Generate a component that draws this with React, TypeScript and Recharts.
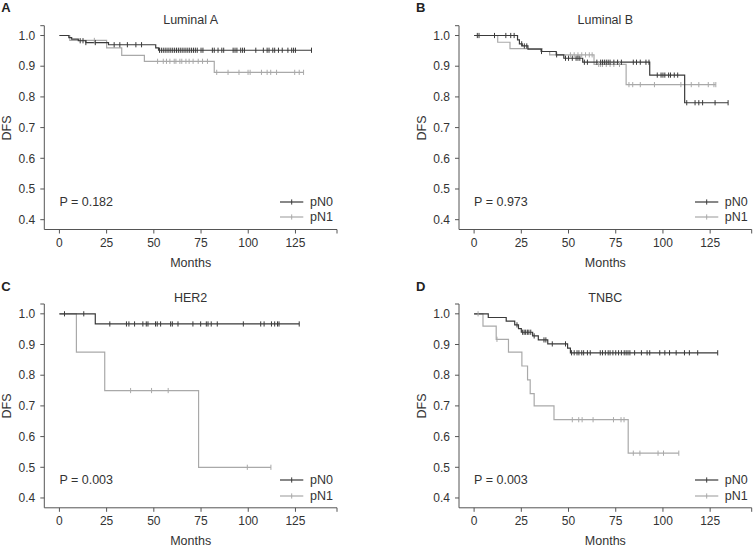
import { ComposedChart, Line, Scatter, XAxis, YAxis } from "recharts";

// Kaplan-Meier DFS by nodal status (pN0 vs pN1) for four subtypes.
// Each curve: event times + survival after the step, and censoring times.

// A. Luminal A
const lumA_pN0_times = [0, 5, 6.5, 10, 14, 26, 51, 52.5];
const lumA_pN0_surv = [1, 0.993, 0.988, 0.983, 0.977, 0.97, 0.96, 0.952];
const lumA_pN0_censor = [
  11, 12.5, 14, 19, 29, 32, 36, 40.5, 43.5, 53, 54, 55, 56, 57, 58, 59, 60, 61, 62, 63, 64, 65, 66, 67,
  68, 69, 70, 71, 72, 73, 75, 76, 81, 82, 84, 86, 87, 92, 93, 94, 96, 97, 98, 104, 108, 110, 111, 113,
  114, 116, 118, 121, 123, 124, 125, 133.5,
];
const lumA_pN1_times = [0, 5.5, 25, 33, 45, 82];
const lumA_pN1_surv = [1, 0.984, 0.96, 0.935, 0.916, 0.88];
const lumA_pN1_censor = [
  18.5, 52, 55, 56.7, 58.5, 60.8, 61.7, 63.8, 64.8, 67, 68.7, 70.8, 73.5, 75.8, 78.4, 83.3, 89.3, 95.1,
  99.9, 101, 107, 110, 111.9, 115, 124.6, 127, 129.3,
];

// B. Luminal B
const lumB_pN0_times = [0, 23, 24, 25.5, 28.5, 35.5, 43.5, 47.5, 57.5, 93, 111.5];
const lumB_pN0_surv = [1, 0.986, 0.973, 0.966, 0.956, 0.948, 0.937, 0.926, 0.913, 0.871, 0.781];
const lumB_pN0_censor = [
  1.7, 2.6, 10.8, 16.8, 19.4, 21.2, 25.2, 26.6, 27.9, 35.7, 43.7, 48.4, 50, 52, 54, 55, 56, 58.4, 60, 65,
  67, 68, 69, 70, 71, 72, 74, 76, 78, 84.3, 86, 88, 91, 92.6, 97, 99, 100, 101, 103, 104, 106, 107.8,
  112.6, 117, 119, 121, 127.6, 134.5,
];
const lumB_pN1_times = [0, 12.5, 19, 36, 40, 63.5, 80.5];
const lumB_pN1_surv = [1, 0.978, 0.957, 0.948, 0.937, 0.906, 0.84];
const lumB_pN1_censor = [
  51, 53, 55, 57, 59, 61, 62.5, 66, 67, 68, 70, 72, 74, 77, 82, 84, 88, 95.5, 109.5, 115, 119, 124, 127,
  128,
];

// C. HER2
const her2_pN0_times = [0, 19];
const her2_pN0_surv = [1, 0.967];
const her2_pN0_censor = [
  2.7, 12.9, 26.7, 35.5, 36.8, 39.8, 44.2, 46, 46.9, 50.9, 51.8, 53.6, 58.9, 59.8, 62.8, 70.7, 74.8,
  77.8, 78.7, 80.4, 83.6, 97.4, 106.6, 108.4, 112.3, 114, 115.5, 116.3, 127,
];
const her2_pN1_times = [0, 9, 24, 73.7];
const her2_pN1_surv = [1, 0.875, 0.75, 0.5];
const her2_pN1_censor = [37.7, 48.8, 57.6, 99.5, 112];

// D. TNBC
const tnbc_pN0_times = [0, 7.5, 17, 21.5, 23.5, 25, 31, 34, 39, 49.5, 51];
const tnbc_pN0_surv = [1, 0.988, 0.976, 0.964, 0.952, 0.94, 0.928, 0.915, 0.902, 0.888, 0.873];
const tnbc_pN0_censor = [
  22.7, 25.7, 26.5, 27.3, 28.2, 29, 30, 31.8, 37, 38, 41.4, 48.4, 51.6, 53, 54.5, 55.5, 57, 58, 60, 61.5,
  66.8, 68, 69.5, 71, 72, 73.5, 75, 76.5, 78, 79.5, 80.5, 81.5, 82.5, 85, 88.6, 91.6, 93, 98.3, 101,
  103.5, 107, 111.4, 114, 118.4, 129,
];
const tnbc_pN1_times = [0, 4.7, 11.7, 18.2, 25.3, 28.3, 29.7, 31.8, 42.3, 81.6];
const tnbc_pN1_surv = [1, 0.96, 0.917, 0.875, 0.83, 0.785, 0.74, 0.7, 0.655, 0.546];
const tnbc_pN1_censor = [2.1, 12.1, 52, 55.4, 57.2, 63, 73.8, 77.8, 79.4, 84.3, 87.8, 97.4, 100.3, 108.4];

const pValues = ["P = 0.182", "P = 0.973", "P = 0.003", "P = 0.003"];
const titles = ["Luminal A", "Luminal B", "HER2", "TNBC"];
const letters = ["A", "B", "C", "D"];
const groupNames = ["pN0", "pN1"];

const xTicks = [0, 25, 50, 75, 100, 125, 147];
const yTicks = [0.4, 0.5, 0.6, 0.7, 0.8, 0.9, 1.0, 1.032];

const FONT = "'Liberation Sans', Arial, Helvetica, sans-serif";
const DARK = "#3a3a3a";
const LIGHT = "#a9a9a9";
const AXIS = "#555";
const TEXT = "#333";

const PANEL_W = 378;
const PANEL_H = 275;
const PLOT_W = 292.7;
const PLOT_H = 203.8;
const Y_AXIS_W = 40;
const X_AXIS_H = 30;

type Pt = { t: number; s: number };

function survAt(times: number[], surv: number[], t: number) {
  let v = surv[0];
  for (let i = 0; i < times.length; i++) if (times[i] <= t) v = surv[i];
  return v;
}

function stepData(times: number[], surv: number[], censor: number[]): Pt[] {
  const pts = times.map((t, i) => ({ t, s: surv[i] }));
  const end = Math.max(times[times.length - 1], ...censor);
  pts.push({ t: end, s: surv[surv.length - 1] });
  return pts;
}

function censorData(times: number[], surv: number[], censor: number[]): Pt[] {
  return censor.map((c) => ({ t: c, s: survAt(times, surv, c) }));
}

const CensorTick = (props: any) => {
  const { cx, cy, fill } = props;
  if (cx == null || cy == null) return null;
  return <line x1={cx} x2={cx} y1={cy - 2.6} y2={cy + 2.6} stroke={fill} strokeWidth={1} />;
};

type Curve = { times: number[]; surv: number[]; censor: number[] };

const panels: { n0: Curve; n1: Curve }[] = [
  {
    n0: { times: lumA_pN0_times, surv: lumA_pN0_surv, censor: lumA_pN0_censor },
    n1: { times: lumA_pN1_times, surv: lumA_pN1_surv, censor: lumA_pN1_censor },
  },
  {
    n0: { times: lumB_pN0_times, surv: lumB_pN0_surv, censor: lumB_pN0_censor },
    n1: { times: lumB_pN1_times, surv: lumB_pN1_surv, censor: lumB_pN1_censor },
  },
  {
    n0: { times: her2_pN0_times, surv: her2_pN0_surv, censor: her2_pN0_censor },
    n1: { times: her2_pN1_times, surv: her2_pN1_surv, censor: her2_pN1_censor },
  },
  {
    n0: { times: tnbc_pN0_times, surv: tnbc_pN0_surv, censor: tnbc_pN0_censor },
    n1: { times: tnbc_pN1_times, surv: tnbc_pN1_surv, censor: tnbc_pN1_censor },
  },
];

const textStyle = (x: number, y: number, extra: any = {}) => ({
  position: "absolute" as const,
  left: x,
  top: y,
  transform: "translateY(-50%)",
  whiteSpace: "nowrap" as const,
  fontSize: 12.5,
  color: TEXT,
  lineHeight: 1,
  ...extra,
});

function Panel({ idx, left, top }: { idx: number; left: number; top: number }) {
  const { n0, n1 } = panels[idx];
  const plotLeft = idx % 2 === 0 ? 44.3 : 81;
  const plotTop = idx < 2 ? 25.7 : 29;
  const plotRight = plotLeft + PLOT_W;
  const plotMidX = plotLeft + PLOT_W / 2;
  const tick = { fontSize: 12, fill: TEXT, fontFamily: FONT };

  return (
    <div style={{ position: "absolute", left, top, width: PANEL_W, height: PANEL_H, fontFamily: FONT }}>
      <ComposedChart
        width={PANEL_W}
        height={PANEL_H}
        margin={{
          top: plotTop,
          left: plotLeft - Y_AXIS_W,
          right: PANEL_W - plotRight,
          bottom: PANEL_H - plotTop - PLOT_H - X_AXIS_H,
        }}
      >
        <XAxis
          type="number"
          dataKey="t"
          domain={[-8, 147]}
          allowDataOverflow
          ticks={xTicks}
          interval={0}
          height={X_AXIS_H}
          tickSize={4}
          tickMargin={4.5}
          tick={tick}
          stroke={AXIS}
          tickFormatter={(v: number) => (v > 140 ? "" : String(v))}
        />
        <YAxis
          type="number"
          dataKey="s"
          domain={[0.368, 1.032]}
          allowDataOverflow
          ticks={yTicks}
          interval={0}
          width={Y_AXIS_W}
          tickSize={4}
          tickMargin={5}
          tick={tick}
          stroke={AXIS}
          tickFormatter={(v: number) => (v > 1.01 ? "" : v.toFixed(1))}
        />
        <Line
          data={stepData(n1.times, n1.surv, n1.censor)}
          dataKey="s"
          type="stepAfter"
          stroke={LIGHT}
          strokeWidth={1.2}
          dot={false}
          isAnimationActive={false}
        />
        <Scatter
          data={censorData(n1.times, n1.surv, n1.censor)}
          dataKey="s"
          fill={LIGHT}
          shape={CensorTick}
          isAnimationActive={false}
        />
        <Line
          data={stepData(n0.times, n0.surv, n0.censor)}
          dataKey="s"
          type="stepAfter"
          stroke={DARK}
          strokeWidth={1.2}
          dot={false}
          isAnimationActive={false}
        />
        <Scatter
          data={censorData(n0.times, n0.surv, n0.censor)}
          dataKey="s"
          fill={DARK}
          shape={CensorTick}
          isAnimationActive={false}
        />
      </ComposedChart>

      <div
        style={textStyle(plotLeft - 43, plotTop - 18.3, {
          fontFamily: "'Liberation Sans Narrow', 'Liberation Sans', Arial, sans-serif",
          fontWeight: 700,
          fontSize: 13,
          color: "#222",
        })}
      >
        {letters[idx]}
      </div>
      <div style={textStyle(plotMidX, plotTop - 5.7, { transform: "translate(-50%, -50%)" })}>
        {titles[idx]}
      </div>
      <div
        style={textStyle(plotLeft - 37.5, plotTop + PLOT_H / 2, {
          transform: "translate(-50%, -50%) rotate(-90deg)",
        })}
      >
        DFS
      </div>
      <div style={textStyle(plotMidX, plotTop + PLOT_H + 33.3, { transform: "translate(-50%, -50%)" })}>
        Months
      </div>
      <div style={textStyle(plotLeft + 15.1, plotTop + 176)}>{pValues[idx]}</div>

      {groupNames.map((g, i) => {
        const y = plotTop + 176 + i * 15.6;
        const color = i === 0 ? DARK : LIGHT;
        return (
          <div key={g}>
            <svg
              width={24}
              height={8}
              style={{ position: "absolute", left: plotRight - 57, top: y - 4, overflow: "visible" }}
            >
              <line x1={0} x2={23.3} y1={4} y2={4} stroke={color} strokeWidth={1.2} />
              <line x1={11.7} x2={11.7} y1={1.4} y2={6.6} stroke={color} strokeWidth={1} />
            </svg>
            <div style={textStyle(plotRight - 27, y)}>{g}</div>
          </div>
        );
      })}
    </div>
  );
}

export default function App() {
  return (
    <div
      style={{
        position: "absolute",
        left: 0,
        top: 0,
        width: 756,
        height: 551,
        background: "#fff",
        overflow: "hidden",
      }}
    >
      <Panel idx={0} left={0} top={0} />
      <Panel idx={1} left={378} top={0} />
      <Panel idx={2} left={0} top={275} />
      <Panel idx={3} left={378} top={275} />
    </div>
  );
}
